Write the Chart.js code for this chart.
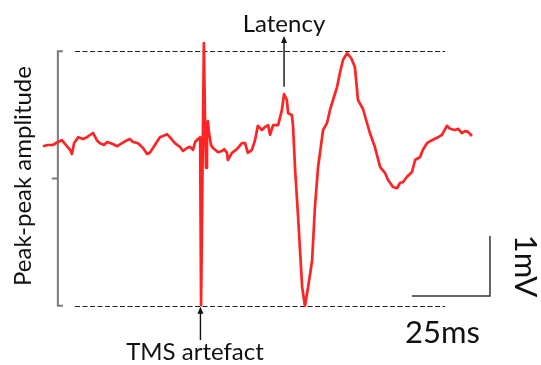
<!DOCTYPE html>
<html>
<head>
<meta charset="utf-8">
<script src="https://cdn.jsdelivr.net/npm/chart.js@4"></script>
<style>
  html, body { margin: 0; padding: 0; background: #ffffff; }
  canvas { display: block; }
</style>
</head>
<body>
<canvas id="mep" width="541" height="365"></canvas>
<script>
// Motor evoked potential trace: time relative to the TMS pulse (ms), amplitude (mV)
const timeMs = [-51.0,-49.4,-47.8,-46.2,-44.9,-43.9,-42.3,-41.7,-41.0,-39.7,-38.1,-36.9,-34.9,-33.7,-32.7,-31.4,-30.4,-28.8,-27.2,-25.6,-24.0,-23.1,-22.1,-20.5,-18.9,-17.6,-16.7,-15.1,-13.5,-12.5,-11.2,-10.3,-8.7,-7.1,-6.1,-4.8,-3.8,-2.9,-2.2,-1.3,-0.6,-0.3,0.6,1.0,1.3,1.6,1.9,2.2,2.9,3.5,4.2,5.1,6.4,7.1,8.0,8.3,9.6,11.2,12.8,13.8,14.7,16.0,17.0,17.9,19.2,20.2,21.2,21.8,22.8,24.4,25.6,26.3,27.2,27.6,28.8,29.2,29.8,30.8,32.1,33.0,34.0,35.3,36.2,37.2,38.8,40.1,41.0,42.0,43.3,44.2,45.2,46.5,47.8,49.0,50.0,51.6,53.8,55.4,57.1,58.7,59.6,61.2,62.5,63.5,64.4,65.7,67.3,68.3,69.9,70.8,72.1,73.7,75.3,76.9,78.5,79.5,81.1,82.1,83.3,84.3,85.3,86.5];
const amplitudeMv = [-0.07,-0.05,-0.05,0,0.03,-0.03,-0.13,-0.20,-0.02,0.08,0.05,0.08,0.15,0.03,-0.02,-0.05,0,-0.03,-0.07,-0.02,0.03,0.05,0,-0.02,-0.10,-0.20,-0.18,-0.05,0.08,0.10,0.13,0.08,-0.02,-0.08,-0.15,-0.10,-0.08,-0.13,0,0.05,0.08,-2.72,1.65,0.23,-0.43,0.28,0.35,0.17,-0.05,-0.10,-0.13,-0.17,-0.15,-0.12,-0.18,-0.30,-0.18,-0.12,-0.02,-0.02,-0.18,-0.13,0.03,0.27,0.20,0.25,0.28,0.12,0.28,0.28,0.53,0.80,0.70,0.48,0.45,0.25,-0.42,-1.25,-2.42,-2.73,-2.42,-1.97,-1.08,-0.42,0.20,0.32,0.53,0.70,0.92,1.15,1.37,1.48,1.40,1.25,0.70,0.55,0.15,-0.08,-0.42,-0.52,-0.63,-0.75,-0.77,-0.68,-0.67,-0.58,-0.50,-0.30,-0.25,-0.13,-0.02,0.03,0.07,0.12,0.27,0.22,0.20,0.22,0.15,0.18,0.17,0.10];

// Marker positions (ms) and scale-bar sizes
const latencyMs = 26.3;
const artefactMs = -0.5;
const scaleBarMs = 25;
const scaleBarMv = 1;

// Labels
const labelLatency = 'Latency';
const labelArtefact = 'TMS artefact';
const labelAmplitude = 'Peak-peak amplitude';
const labelTime = '25ms';
const labelVolt = '1mV';

const points = timeMs.map((t, i) => ({ x: t, y: amplitudeMv[i] }));

// Peak and trough of the response (after the artefact)
const respVals = amplitudeMv.filter((v, i) => timeMs[i] > 10);
const peakMv = Math.max(...respVals);
const troughMv = Math.min(...respVals);

const FONT = 'Lato, "Open Sans", sans-serif';

function arrowUp(ctx, x, yFrom, yTo) {
  ctx.save();
  ctx.strokeStyle = '#111';
  ctx.fillStyle = '#111';
  ctx.lineWidth = 1.4;
  ctx.beginPath();
  ctx.moveTo(x, yFrom);
  ctx.lineTo(x, yTo + 5);
  ctx.stroke();
  ctx.beginPath();
  ctx.moveTo(x, yTo);
  ctx.lineTo(x - 3, yTo + 7);
  ctx.lineTo(x + 3, yTo + 7);
  ctx.closePath();
  ctx.fill();
  ctx.restore();
}

const annotations = {
  id: 'mepAnnotations',
  beforeDatasetsDraw(chart) {
    const { ctx, scales: { x, y } } = chart;
    const yTop = y.getPixelForValue(peakMv) - 2;
    const yBot = y.getPixelForValue(troughMv);
    const xStart = x.getPixelForValue(-40.7);
    const xEnd = x.getPixelForValue(77.9);

    // dashed peak / trough lines
    ctx.save();
    ctx.strokeStyle = '#222';
    ctx.lineWidth = 1.2;
    ctx.setLineDash([5, 2.5]);
    [yTop, yBot].forEach(yy => {
      ctx.beginPath();
      ctx.moveTo(xStart, Math.round(yy) + 0.5);
      ctx.lineTo(xEnd, Math.round(yy) + 0.5);
      ctx.stroke();
    });
    ctx.restore();

    // amplitude bracket
    const xb = x.getPixelForValue(-46.2);
    const yMid = (yTop + yBot) / 2;
    ctx.save();
    ctx.strokeStyle = '#7a7a7a';
    ctx.lineWidth = 2;
    ctx.beginPath();
    ctx.moveTo(xb + 5, yTop);
    ctx.lineTo(xb, yTop);
    ctx.lineTo(xb, yBot);
    ctx.lineTo(xb + 5, yBot);
    ctx.moveTo(xb, yMid);
    ctx.lineTo(xb - 6, yMid);
    ctx.stroke();
    ctx.restore();
  },
  afterDatasetsDraw(chart) {
    const { ctx, scales: { x, y } } = chart;

    // latency arrow
    const xl = x.getPixelForValue(latencyMs);
    arrowUp(ctx, xl, y.getPixelForValue(0.92), 36);

    // TMS artefact arrow
    const xa = x.getPixelForValue(artefactMs);
    arrowUp(ctx, xa, 340, y.getPixelForValue(troughMv) + 1);

    // scale bar
    const xr = x.getPixelForValue(92.3);
    const xlft = x.getPixelForValue(92.3 - scaleBarMs);
    const yb = y.getPixelForValue(-2.567);
    const yt = y.getPixelForValue(-2.567 + scaleBarMv);
    ctx.save();
    ctx.strokeStyle = '#333';
    ctx.lineWidth = 1.5;
    ctx.beginPath();
    ctx.moveTo(xlft, yb);
    ctx.lineTo(xr, yb);
    ctx.lineTo(xr, yt);
    ctx.stroke();
    ctx.restore();

    // text
    ctx.save();
    ctx.fillStyle = '#111';
    ctx.textBaseline = 'alphabetic';
    ctx.font = `24px ${FONT}`;
    ctx.textAlign = 'center';
    ctx.fillText(labelLatency, 284, 32);
    ctx.fillText(labelArtefact, 195, 360);

    ctx.save();
    ctx.translate(31, 176);
    ctx.rotate(-Math.PI / 2);
    ctx.fillText(labelAmplitude, 0, 0);
    ctx.restore();

    ctx.font = `31px ${FONT}`;
    ctx.textAlign = 'left';
    ctx.fillText(labelTime, 405, 343);

    ctx.save();
    ctx.translate(515, 266);
    ctx.rotate(Math.PI / 2);
    ctx.textAlign = 'center';
    ctx.fillText(labelVolt, 0, 0);
    ctx.restore();
    ctx.restore();
  }
};

new Chart(document.getElementById('mep'), {
  type: 'line',
  data: {
    datasets: [{
      data: points,
      borderColor: '#ff2424',
      borderWidth: 2.7,
      borderJoinStyle: 'round',
      pointRadius: 0,
      tension: 0,
      fill: false
    }]
  },
  options: {
    responsive: false,
    devicePixelRatio: 1,
    animation: false,
    layout: { padding: 0 },
    plugins: { legend: { display: false }, tooltip: { enabled: false } },
    scales: {
      x: { type: 'linear', display: false, min: -202 / 3.12, max: 339 / 3.12 },
      y: { type: 'linear', display: false, min: -223 / 60, max: 142 / 60 }
    }
  },
  plugins: [annotations]
});
</script>
</body>
</html>
